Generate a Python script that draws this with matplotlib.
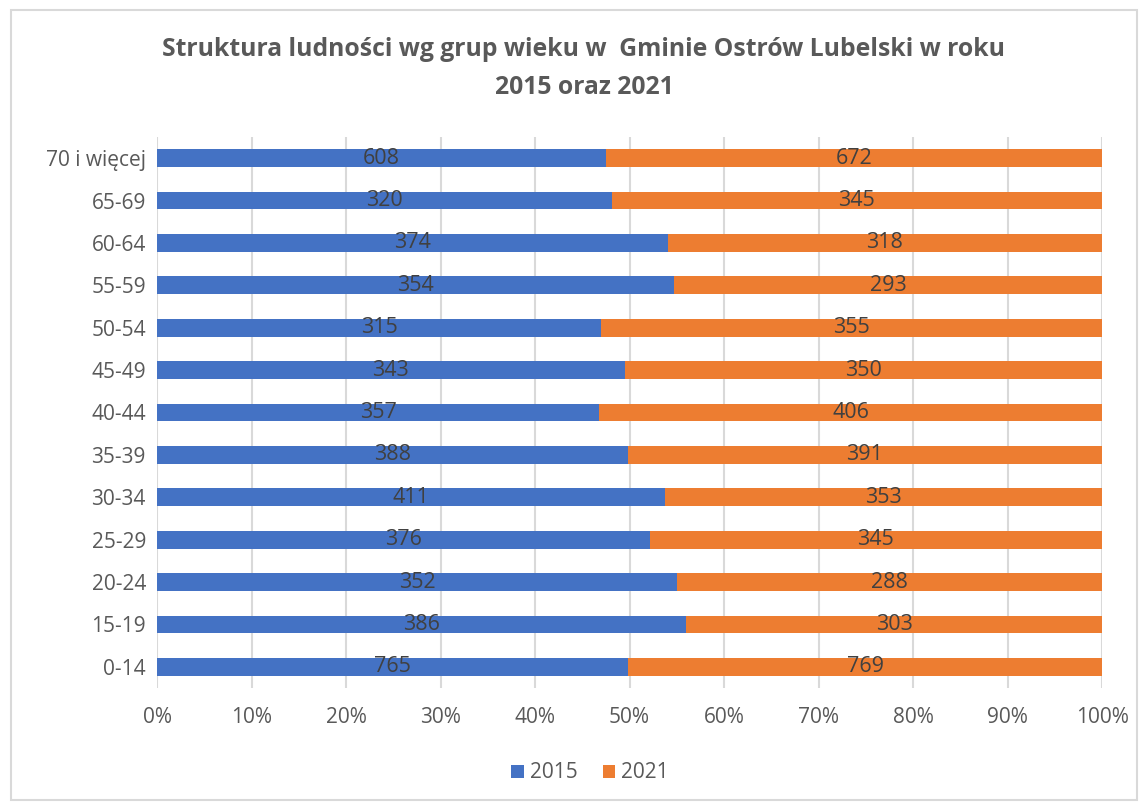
import numpy as np
import matplotlib
matplotlib.use("Agg")
import matplotlib.pyplot as plt
from matplotlib.patches import Rectangle

# age groups, bottom to top as drawn
groups = ['0-14', '15-19', '20-24', '25-29', '30-34', '35-39', '40-44',
          '45-49', '50-54', '55-59', '60-64', '65-69', '70 i więcej']
pop_2015 = [765, 386, 352, 376, 411, 388, 357, 343, 315, 354, 374, 320, 608]
pop_2021 = [769, 303, 288, 345, 353, 391, 406, 350, 355, 293, 318, 345, 672]

plt.rcParams['font.family'] = ['Open Sans', 'DejaVu Sans']

a = np.array(pop_2015, dtype=float)
b = np.array(pop_2021, dtype=float)
tot = a + b
sa = a / tot
sb = b / tot
y = np.arange(len(groups))

fig = plt.figure(figsize=(11.44, 8.07), dpi=100)
ax = fig.add_axes([157/1144, 1 - 688/807, (1102 - 157)/1144, (688 - 137)/807])

h = 0.42
ax.barh(y, sa, height=h, color='#4472C4', label='2015', zorder=3)
ax.barh(y, sb, left=sa, height=h, color='#ED7D31', label='2021', zorder=3)

for i in range(len(groups)):
    ax.text(sa[i] / 2, y[i], str(pop_2015[i]), ha='center', va='center',
            fontsize=15.5, color='#404040', zorder=4)
    ax.text(sa[i] + sb[i] / 2, y[i], str(pop_2021[i]), ha='center', va='center',
            fontsize=15.5, color='#404040', zorder=4)

ax.set_xlim(0, 1)
ax.set_ylim(-0.5, len(groups) - 0.5)
ax.set_xticks(np.arange(0, 1.01, 0.1))
ax.set_xticklabels([f'{int(round(v*100))}%' for v in np.arange(0, 1.01, 0.1)])
ax.set_yticks(y)
ax.set_yticklabels(groups)
ax.tick_params(axis='both', length=0, labelsize=15, labelcolor='#595959')
ax.tick_params(axis='x', pad=14)
ax.tick_params(axis='y', pad=8)
ax.grid(axis='x', color='#D9D9D9', linewidth=1.5, zorder=0)
for s in ax.spines.values():
    s.set_visible(False)

fig.text(584/1144, 1 - 50/807, 'Struktura ludności wg grup wieku w  Gminie Ostrów Lubelski w roku',
         ha='center', va='center', fontsize=17.8, fontweight='bold', color='#595959')
fig.text(584/1144, 1 - 87/807, '2015 oraz 2021',
         ha='center', va='center', fontsize=17.8, fontweight='bold', color='#595959')

fig.legend(loc='center', bbox_to_anchor=(590/1144, 1 - 773/807), ncol=2, frameon=False,
           fontsize=15, labelcolor='#595959', handlelength=0.6, handleheight=0.6,
           handletextpad=0.3, columnspacing=1.2)

fig.patches.append(Rectangle((11/1144, 1 - 800/807), (1137 - 11)/1144, (800 - 10)/807,
                             transform=fig.transFigure, fill=False,
                             edgecolor='#D9D9D9', linewidth=1.5))

fig.savefig('out.png', dpi=100, facecolor='white')
